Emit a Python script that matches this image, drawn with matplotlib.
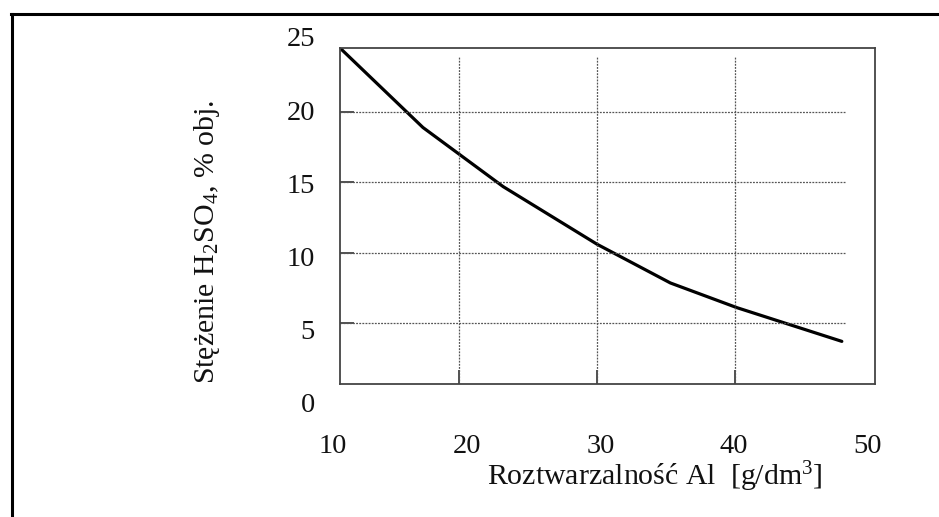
import matplotlib
matplotlib.use("Agg")
import matplotlib.pyplot as plt
from matplotlib.lines import Line2D

plt.rcParams['font.family'] = ['Liberation Serif', 'DejaVu Serif']
plt.rcParams['mathtext.fontset'] = 'custom'
plt.rcParams['mathtext.rm'] = 'Liberation Serif'
plt.rcParams['mathtext.it'] = 'Liberation Serif:italic'
plt.rcParams['mathtext.bf'] = 'Liberation Serif:bold'

# Data
roztwarzalnosc = [11.4, 17.4, 23.2, 30.0, 35.3, 40.1, 47.7]
stezenie = [24.55, 18.9, 14.7, 10.6, 7.85, 6.1, 3.7]

x_ticks = [10, 20, 30, 40, 50]
y_ticks = [0, 5, 10, 15, 20, 25]
x_grid = [20, 30, 40]
y_grid = [5, 10, 15, 20]

W, H = 939, 517
fig = plt.figure(figsize=(W / 100, H / 100), dpi=100)

def box(l, t, r, b):
    return [l / W, 1 - b / H, (r - l) / W, (b - t) / H]

# main plot axes
ax = fig.add_axes(box(340, 48, 875, 384))
ax.plot(roztwarzalnosc, stezenie, color='black', lw=2.3, solid_capstyle='round')
ax.set_xlim(11.4, 50.1)
ax.set_ylim(0.67, 24.55)
ax.hlines(y_grid, 11.4, 48.0, colors='#555555', linestyles=(0, (1.5, 1.0)), lw=0.9)
ax.vlines(x_grid, 0.67, 23.9, colors='#555555', linestyles=(0, (1.5, 1.0)), lw=0.9)
ax.set_xticks(x_grid)
ax.set_yticks(y_grid)
ax.tick_params(direction='in', length=10, width=1.2, color='#333333',
               labelbottom=False, labelleft=False)
for s in ax.spines.values():
    s.set_color('#444444')
    s.set_linewidth(1.3)

# invisible axes carrying the tick labels (as printed on the page)
lab = fig.add_axes(box(333, 37, 868, 403))
lab.set_xlim(10, 50)
lab.set_ylim(0, 25)
lab.set_xticks(x_ticks)
lab.set_yticks(y_ticks)
lab.set_xticklabels([str(v) for v in x_ticks])
lab.set_yticklabels([str(v) for v in y_ticks])
lab.tick_params(length=0, labelsize=20.5, colors='#111111')
lab.tick_params(axis='y', pad=13)
lab.tick_params(axis='x', pad=22)
lab.patch.set_visible(False)
for s in lab.spines.values():
    s.set_visible(False)

fig.text(655 / W, 1 - 477 / H, 'Roztwarzalność Al  [g/dm$^3$]', ha='center', va='center',
         fontsize=21.5, color='#111111')
fig.text(207 / W, 1 - 242 / H, 'Stężenie H$_2$SO$_4$, % obj.', ha='center', va='center',
         rotation=90, fontsize=21.5, color='#111111')

# outer frame (scan border)
fig.add_artist(Line2D([12 / W, 12 / W], [0, 1 - 14 / H], color='black', lw=2.2,
                      transform=fig.transFigure))
fig.add_artist(Line2D([11 / W, 1], [1 - 14 / H, 1 - 14 / H], color='black', lw=2.2,
                      transform=fig.transFigure))

fig.savefig('out.png', dpi=100)
